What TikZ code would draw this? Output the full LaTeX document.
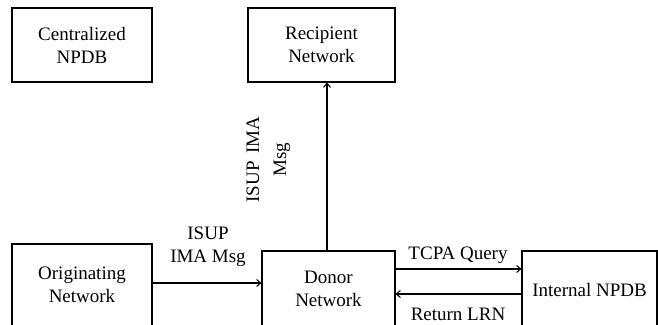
\documentclass[tikz,border=0pt]{standalone}
\usepackage{fontspec}
\setmainfont{Liberation Serif}
\usetikzlibrary{arrows.meta}
\begin{document}
\begin{tikzpicture}[x=1pt,y=1pt,
  box/.style={draw, line width=1.1pt, inner sep=0pt, align=center, font=\fontsize{19}{23}\selectfont},
  lbl/.style={inner sep=0pt, align=center, font=\fontsize{19}{23}\selectfont},
  conn/.style={line width=1.1pt, -{Straight Barb[length=4pt,width=7pt]}}]
\useasboundingbox (0,0) rectangle (658,324);
\clip (0,0) rectangle (658,324);
\node[box, minimum width=140pt, minimum height=74pt] (cen) at (82,279) {Centralized\\NPDB};
\node[box, minimum width=147pt, minimum height=74pt] (rec) at (321.5,279) {Recipient\\Network};
\node[box, minimum width=140pt, minimum height=82pt] (org) at (82,39) {Originating\\Network};
\node[box, minimum width=133pt, minimum height=76pt] (don) at (328.5,35) {Donor\\Network};
\node[box, minimum width=135pt, minimum height=78pt] (npdb) at (589.5,34) {Internal NPDB};
\coordinate (a) at ([yshift=2pt]org.east);
\draw[conn] (a) -- (a -| don.west);
\coordinate (b) at ([xshift=-1.5pt]don.north);
\draw[conn] (b) -- (b |- rec.south);
\coordinate (q) at ([yshift=20pt]don.east);
\draw[conn] (q) -- (q -| npdb.west);
\coordinate (r) at ([yshift=-5pt]don.east);
\draw[conn] (r -| npdb.west) -- (r);
\node[lbl] (l1) at (208,77) {ISUP\\IMA Msg};
\node[lbl] (l2) at (458,69) {TCPA Query};
\node[lbl] (l3) at (458,10) {Return LRN};
\node[lbl, rotate=90, font=\fontsize{19}{27}\selectfont] (l4) at (268.5,164.5) {ISUP\ \kern3pt IMA\\Msg};
\end{tikzpicture}
\end{document}
